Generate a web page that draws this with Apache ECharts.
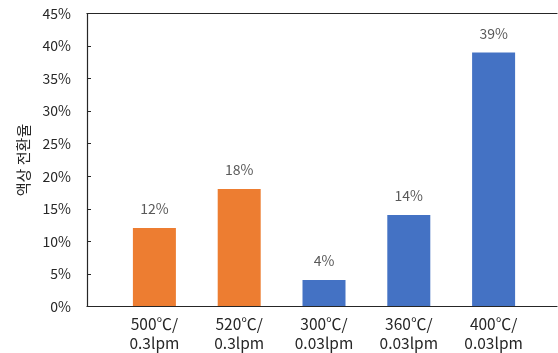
<!DOCTYPE html>
<html>
<head>
<meta charset="utf-8">
<script src="https://cdn.jsdelivr.net/npm/echarts@6/dist/echarts.min.js"></script>
<style>
  html, body { margin: 0; padding: 0; background: #fff; }
  #chart { width: 558px; height: 353px; }
</style>
</head>
<body>
<div id="chart"></div>
<script>
// Liquid conversion rate by reaction condition (temperature / flow rate)
const categories = ['500℃/\n0.3lpm', '520℃/\n0.3lpm', '300℃/\n0.03lpm', '360℃/\n0.03lpm', '400℃/\n0.03lpm'];
const highFlowValues = [12, 18, '-', '-', '-'];   // 0.3 lpm runs
const lowFlowValues = ['-', '-', 4, 14, 39];       // 0.03 lpm runs
const yMin = 0;
const yMax = 45;
const yInterval = 5;
const yAxisTitle = '액상 전환율';

const FONT = '"Noto Sans CJK KR", "Noto Sans", sans-serif';
const AXIS_COLOR = '#262626';

const chart = echarts.init(document.getElementById('chart'), null, { renderer: 'canvas' });

const barLabel = {
  show: true,
  position: 'top',
  distance: 12,
  color: '#595959',
  fontSize: 14,
  fontFamily: FONT,
  formatter: '{c}%'
};

chart.setOption({
  animation: false,
  grid: [
    // frame: left axis, bottom baseline and top border
    { left: 87, right: 1, top: 13.5, bottom: 46.5 },
    // bar area
    { left: 112, width: 424, top: 13.5, bottom: 46.5 }
  ],
  xAxis: [
    {
      gridIndex: 0, type: 'value', position: 'bottom', min: 0, max: 1,
      axisLine: { show: true, onZero: false, lineStyle: { color: AXIS_COLOR, width: 1.2 } },
      axisTick: { show: false }, axisLabel: { show: false }, splitLine: { show: false }
    },
    {
      gridIndex: 0, type: 'value', position: 'top', min: 0, max: 1,
      axisLine: { show: true, onZero: false, lineStyle: { color: AXIS_COLOR, width: 1.2 } },
      axisTick: { show: false }, axisLabel: { show: false }, splitLine: { show: false }
    },
    {
      gridIndex: 1, type: 'category', data: categories,
      axisLine: { show: false }, axisTick: { show: false }, splitLine: { show: false },
      axisLabel: {
        color: '#262626', fontSize: 15.5, fontFamily: FONT,
        lineHeight: 19, margin: 9, interval: 0
      }
    }
  ],
  yAxis: [
    {
      gridIndex: 0, type: 'value', min: yMin, max: yMax, interval: yInterval,
      name: yAxisTitle, nameLocation: 'middle', nameRotate: 90, nameGap: 56,
      nameTextStyle: { color: '#262626', fontSize: 15, fontFamily: FONT },
      axisLine: { show: true, onZero: false, lineStyle: { color: AXIS_COLOR, width: 1.2 } },
      axisTick: { show: true, inside: true, length: 4, lineStyle: { color: AXIS_COLOR } },
      axisLabel: { color: '#262626', fontSize: 14, fontFamily: FONT, margin: 16, formatter: '{value}%' },
      splitLine: { show: false }
    },
    {
      gridIndex: 1, type: 'value', min: yMin, max: yMax, interval: yInterval, show: false
    }
  ],
  series: [
    {
      name: '0.3lpm', type: 'bar', xAxisIndex: 2, yAxisIndex: 1, stack: 'runs',
      data: highFlowValues, barWidth: 43,
      itemStyle: { color: '#ED7D31' }, label: barLabel
    },
    {
      name: '0.03lpm', type: 'bar', xAxisIndex: 2, yAxisIndex: 1, stack: 'runs',
      data: lowFlowValues, barWidth: 43,
      itemStyle: { color: '#4472C4' }, label: barLabel
    }
  ]
});
</script>
</body>
</html>
